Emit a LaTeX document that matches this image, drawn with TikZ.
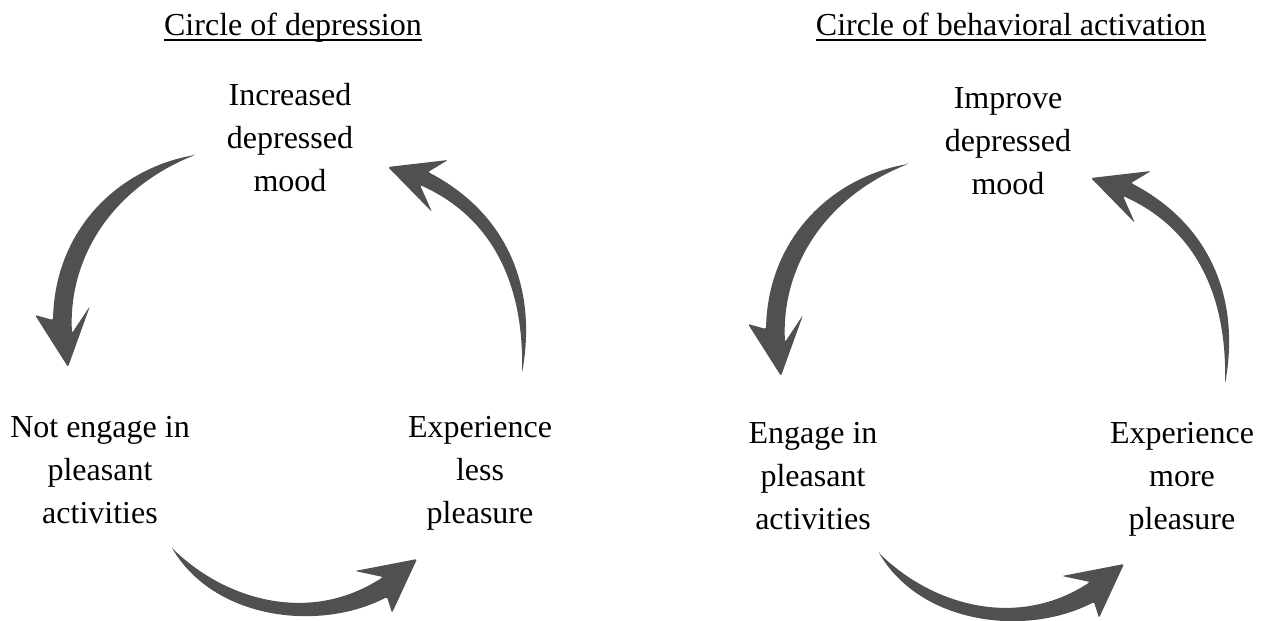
\documentclass[tikz,border=0pt]{standalone}
\usepackage{fontspec}
\setmainfont{Liberation Serif}
\definecolor{arrowgray}{RGB}{80,80,80}
\newcommand\brushDown[1]{\fill[#1] (195,155) .. controls (120,168) and (55,228) .. (53,320) -- (35,315) -- (68,367) -- (90,306) -- (72,333) .. controls (68,258) and (112,188) .. (195,155) -- cycle;}
\newcommand\brushRight[1]{\fill[#1] (172,548) .. controls (225,600) and (310,625) .. (383,577) -- (355,571) -- (417,559) -- (392,613) -- (387,597) .. controls (320,632) and (215,620) .. (172,548) -- cycle;}
\newcommand\brushUp[1]{\fill[#1] (522,373) .. controls (538,285) and (505,212) .. (428,172) -- (448,160) -- (388,167) -- (432,212) -- (420,185) .. controls (498,220) and (524,292) .. (522,373) -- cycle;}
\begin{document}
\begin{tikzpicture}[x=1pt,y=-1pt,
  lbl/.style={align=center,inner sep=0pt,font=\fontsize{32}{43}\selectfont},
  ttl/.style={anchor=base,inner sep=0pt,font=\fontsize{32}{43}\selectfont},
  uline/.style={line width=1.6pt},
  brush/.style={fill=arrowgray,draw=none,rounded corners=1.5pt}]
\path[use as bounding box,fill=white] (0,0) rectangle (1261,621);
% titles
\node[ttl] (t1) at (293,35) {Circle of depression};
\draw[uline] ([yshift=-5pt]t1.base west) -- ([yshift=-5pt]t1.base east);
\node[ttl] (t2) at (1011,35) {Circle of behavioral activation};
\draw[uline] ([yshift=-5pt]t2.base west) -- ([yshift=-5pt]t2.base east);
% left circle labels
\node[lbl] (inc) at (290,138) {Increased\\depressed\\mood};
\node[lbl] (noteng) at (100,470) {Not engage in\\pleasant\\activities};
\node[lbl] (less) at (480,473) {Experience\\less\\pleasure};
% right circle labels
\node[lbl] (imp) at (1008,141) {Improve\\depressed\\mood};
\node[lbl] (eng) at (813,476) {Engage in\\pleasant\\activities};
\node[lbl] (more) at (1182,479) {Experience\\more\\pleasure};
% left circle arrows
\brushDown{brush}
\brushRight{brush}
\brushUp{brush}
% right circle arrows
\begin{scope}[shift={(713,9)}]\brushDown{brush}\end{scope}
\begin{scope}[shift={(707,5)}]\brushRight{brush}\end{scope}
\begin{scope}[shift={(703,11)}]\brushUp{brush}\end{scope}
\end{tikzpicture}
\end{document}
